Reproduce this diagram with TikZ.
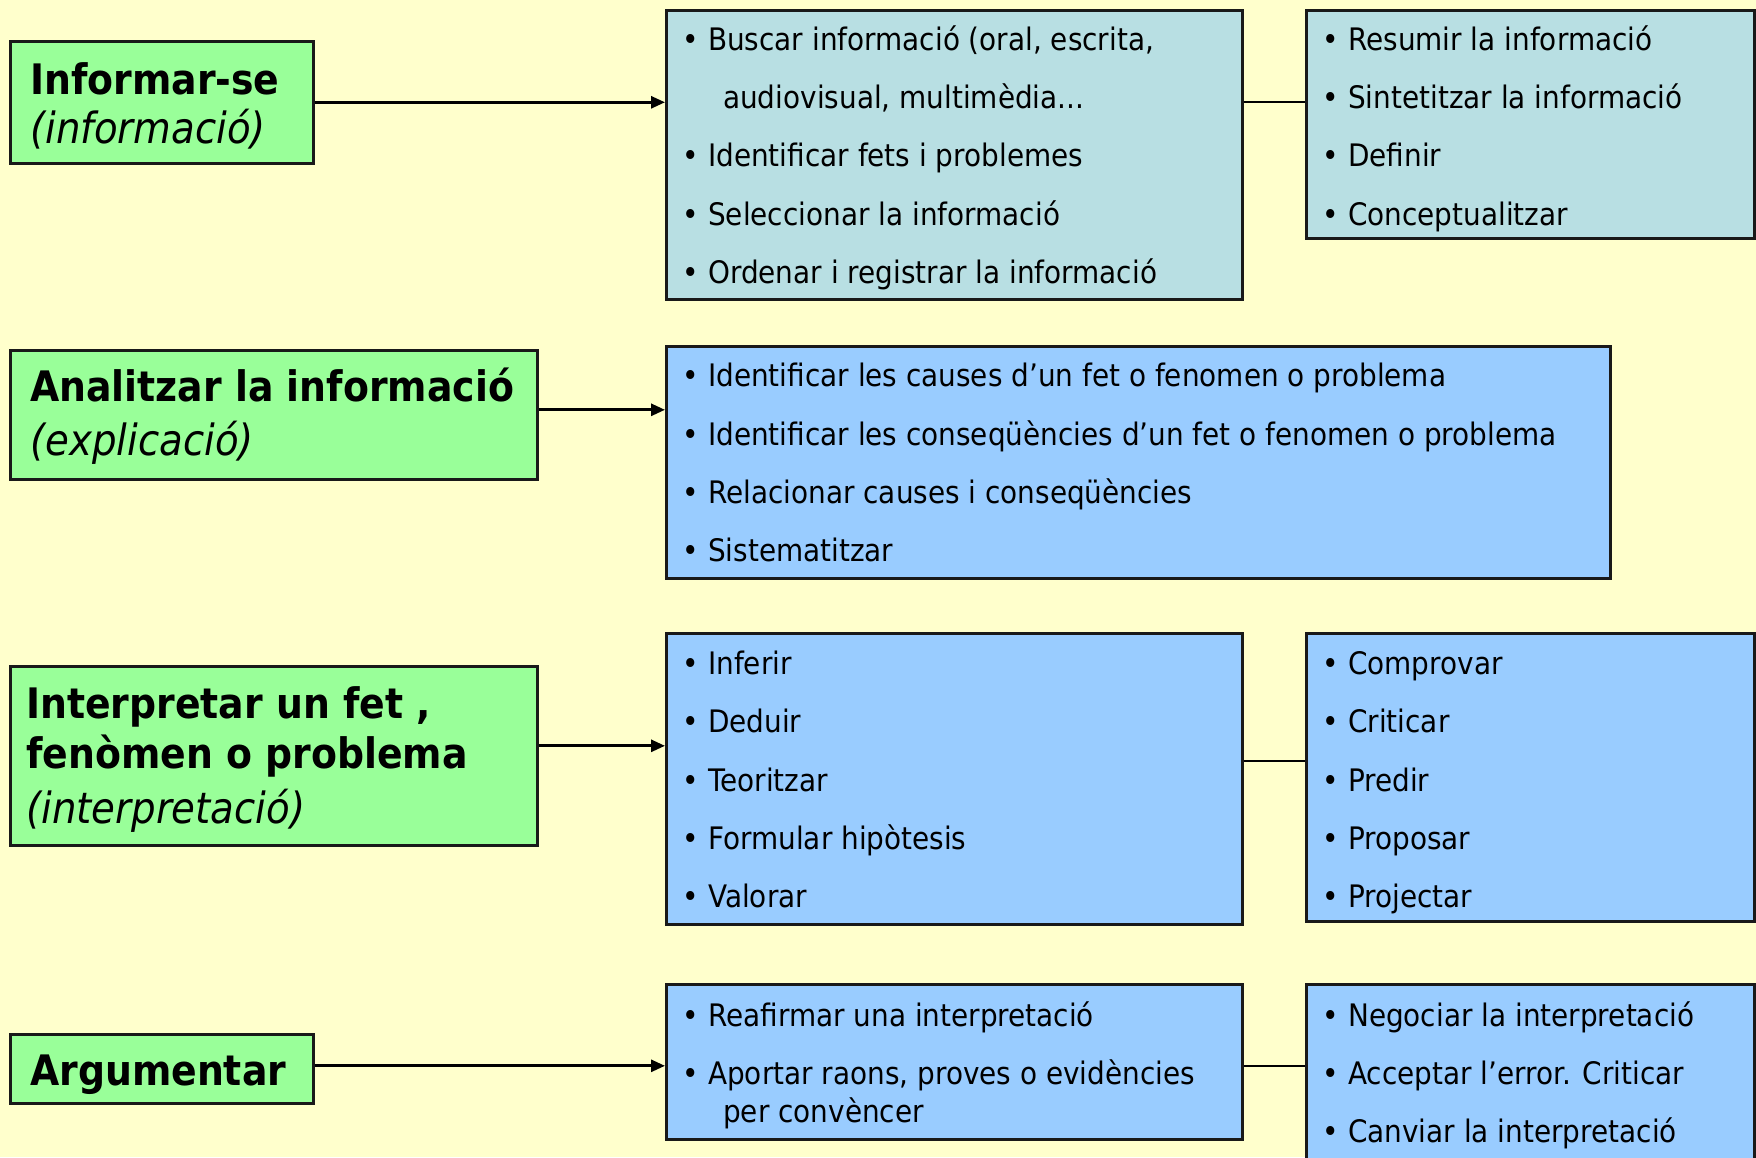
\documentclass[tikz,border=0pt]{standalone}
\usepackage{fontspec}
\setmainfont[FakeStretch=0.9]{DejaVu Sans}
\usetikzlibrary{arrows.meta}

\definecolor{paperyellow}{HTML}{FFFFCC}
\definecolor{stepgreen}{HTML}{99FF99}
\definecolor{paleteal}{HTML}{B8DFE3}
\definecolor{skyblue}{HTML}{99CCFF}

\newcommand{\itm}[1]{\textbullet\hspace{9.5pt}#1}

\tikzset{
  box/.style={draw=black!90, line width=2.6pt, anchor=north west, inner sep=0pt},
  stepbox/.style={box, fill=stepgreen},
  tealbox/.style={box, fill=paleteal},
  bluebox/.style={box, fill=skyblue},
  steptitle/.style={anchor=base west, inner sep=0pt, font=\fontsize{42}{48}\selectfont\bfseries},
  stepsub/.style={anchor=base west, inner sep=0pt, font=\fontsize{43}{48}\selectfont\itshape},
  itemtext/.style={anchor=base west, inner sep=0pt, font=\fontsize{31}{38}\selectfont},
  link/.style={line width=2.8pt, -{Triangle[length=14pt,width=12pt]}},
  joinline/.style={line width=2pt},
}

\begin{document}
\begin{tikzpicture}[x=1pt,y=-1pt]
% Background and page size
\fill[paperyellow] (0,0) rectangle (1756,1157);
\useasboundingbox (0,0) rectangle (1756,1157);

% Row 1: informar-se
\node[stepbox, minimum width=303pt, minimum height=122pt] (a1) at (9,40) {};
\node[steptitle] (a1t) at (30,94) {Informar-se};
\node[stepsub] (a1s) at (30,143) {(informació)};
\node[tealbox, minimum width=576pt, minimum height=289pt] (b1) at (665,9) {};
\node[itemtext] (b1i1) at (682,50) {\itm{Buscar informació (oral, escrita,}};
\node[itemtext] (b1i2) at (723,108) {audiovisual, multimèdia...};
\node[itemtext] (b1i3) at (682,166) {\itm{Identificar fets i problemes}};
\node[itemtext] (b1i4) at (682,225) {\itm{Seleccionar la informació}};
\node[itemtext] (b1i5) at (682,283) {\itm{Ordenar i registrar la informació}};
\node[tealbox, minimum width=448pt, minimum height=228pt] (c1) at (1305,9) {};
\node[itemtext] (c1i1) at (1322,50) {\itm{Resumir la informació}};
\node[itemtext] (c1i2) at (1322,108) {\itm{Sintetitzar la informació}};
\node[itemtext] (c1i3) at (1322,166) {\itm{Definir}};
\node[itemtext] (c1i4) at (1322,225) {\itm{Conceptualitzar}};

% Row 2: analitzar
\node[stepbox, minimum width=527pt, minimum height=129pt] (a2) at (9,349) {};
\node[steptitle] (a2t) at (30,401) {Analitzar la informació};
\node[stepsub] (a2s) at (30,455) {(explicació)};
\node[bluebox, minimum width=944pt, minimum height=232pt] (b2) at (665,345) {};
\node[itemtext] (b2i1) at (682,386) {\itm{Identificar les causes d’un fet o fenomen o problema}};
\node[itemtext] (b2i2) at (682,445) {\itm{Identificar les conseqüències d’un fet o fenomen o problema}};
\node[itemtext] (b2i3) at (682,503) {\itm{Relacionar causes i conseqüències}};
\node[itemtext] (b2i4) at (682,561) {\itm{Sistematitzar}};

% Row 3: interpretar
\node[stepbox, minimum width=527pt, minimum height=179pt] (a3) at (9,665) {};
\node[steptitle] (a3t) at (26,718) {Interpretar un fet ,};
\node[steptitle] (a3u) at (26,768) {fenòmen o problema};
\node[stepsub] (a3s) at (26,823) {(interpretació)};
\node[bluebox, minimum width=576pt, minimum height=291pt] (b3) at (665,632) {};
\node[itemtext] (b3i1) at (682,674) {\itm{Inferir}};
\node[itemtext] (b3i2) at (682,732) {\itm{Deduir}};
\node[itemtext] (b3i3) at (682,791) {\itm{Teoritzar}};
\node[itemtext] (b3i4) at (682,849) {\itm{Formular hipòtesis}};
\node[itemtext] (b3i5) at (682,907) {\itm{Valorar}};
\node[bluebox, minimum width=448pt, minimum height=288pt] (c3) at (1305,632) {};
\node[itemtext] (c3i1) at (1322,674) {\itm{Comprovar}};
\node[itemtext] (c3i2) at (1322,732) {\itm{Criticar}};
\node[itemtext] (c3i3) at (1322,791) {\itm{Predir}};
\node[itemtext] (c3i4) at (1322,849) {\itm{Proposar}};
\node[itemtext] (c3i5) at (1322,907) {\itm{Projectar}};

% Row 4: argumentar
\node[stepbox, minimum width=303pt, minimum height=69pt] (a4) at (9,1033) {};
\node[steptitle] (a4t) at (30,1085) {Argumentar};
\node[bluebox, minimum width=576pt, minimum height=155pt] (b4) at (665,983) {};
\node[itemtext] (b4i1) at (682,1026) {\itm{Reafirmar una interpretació}};
\node[itemtext] (b4i2) at (682,1084) {\itm{Aportar raons, proves o evidències}};
\node[itemtext] (b4i3) at (723,1122) {per convèncer};
\node[bluebox, minimum width=448pt, minimum height=200pt] (c4) at (1305,983) {};
\node[itemtext] (c4i1) at (1322,1026) {\itm{Negociar la interpretació}};
\node[itemtext] (c4i2) at (1322,1084) {\itm{Acceptar l’error. Criticar}};
\node[itemtext] (c4i3) at (1322,1142) {\itm{Canviar la interpretació}};

% Connectors
\draw[link] (a1.east) -- (a1.east -| b1.west);
\draw[link] ([yshift=5pt]a2.east) -- ([yshift=5pt]a2.east -| b2.west);
\draw[link] ([yshift=10pt]a3.east) -- ([yshift=10pt]a3.east -| b3.west);
\draw[link] ([yshift=3pt]a4.east) -- ([yshift=3pt]a4.east -| b4.west);
\draw[joinline] (a1.east -| b1.east) -- (a1.east -| c1.west);
\draw[joinline] ([yshift=18pt]b3.east) -- ([yshift=18pt]b3.east -| c3.west);
\draw[joinline] ([yshift=3pt]a4.east -| b4.east) -- ([yshift=3pt]a4.east -| c4.west);
\end{tikzpicture}
\end{document}
